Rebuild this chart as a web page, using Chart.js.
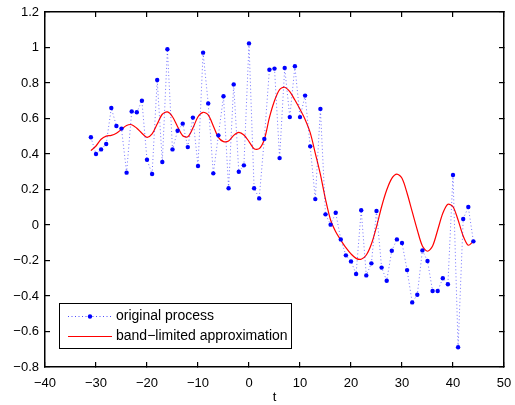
<!DOCTYPE html>
<html>
<head>
<meta charset="utf-8">
<script src="https://cdn.jsdelivr.net/npm/chart.js@4/dist/chart.umd.min.js"></script>
<style>
html,body{margin:0;padding:0;background:#fff;}
</style>
</head>
<body>
<canvas id="c" width="515" height="405"></canvas>
<script>
const tValues = [-31,-30,-29,-28,-27,-26,-25,-24,-23,-22,-21,-20,-19,-18,-17,-16,-15,-14,-13,-12,-11,-10,-9,-8,-7,-6,-5,-4,-3,-2,-1,0,1,2,3,4,5,6,7,8,9,10,11,12,13,14,15,16,17,18,19,20,21,22,23,24,25,26,27,28,29,30,31,32,33,34,35,36,37,38,39,40,41,42,43,44];
const originalProcess = [0.494,0.40,0.426,0.456,0.659,0.558,0.543,0.295,0.640,0.635,0.70,0.368,0.287,0.817,0.355,0.99,0.426,0.531,0.571,0.439,0.605,0.332,0.971,0.685,0.291,0.505,0.725,0.207,0.792,0.30,0.336,1.023,0.207,0.15,0.485,0.875,0.881,0.377,0.885,0.608,0.894,0.608,0.729,0.443,0.146,0.654,0.060,0.002,0.069,-0.081,-0.171,-0.205,-0.276,0.083,-0.284,-0.216,0.079,-0.24,-0.314,-0.145,-0.081,-0.101,-0.254,-0.436,-0.393,-0.143,-0.203,-0.372,-0.372,-0.30,-0.334,0.282,-0.689,0.034,0.101,-0.092];
const bandLimited = [0.419,0.445,0.483,0.501,0.505,0.517,0.539,0.561,0.565,0.545,0.517,0.494,0.513,0.569,0.624,0.637,0.610,0.554,0.503,0.497,0.546,0.610,0.635,0.620,0.558,0.494,0.470,0.473,0.505,0.522,0.507,0.470,0.430,0.430,0.482,0.605,0.700,0.763,0.776,0.751,0.704,0.652,0.595,0.520,0.404,0.285,0.145,0.028,-0.038,-0.085,-0.128,-0.163,-0.188,-0.193,-0.169,-0.107,-0.010,0.103,0.197,0.263,0.287,0.263,0.179,0.075,-0.028,-0.118,-0.148,-0.118,-0.028,0.066,0.117,0.103,0.028,-0.062,-0.114,-0.092];
const xTicks = [-40,-30,-20,-10,0,10,20,30,40,50];
const yTicks = [-0.8,-0.6,-0.4,-0.2,0,0.2,0.4,0.6,0.8,1,1.2];
const seriesLabels = ['original process','band\u2212limited approximation'];
const xTitle = 't';

const fmt = v => String(Math.round(v*10)/10).replace('-', '\u2212');
const FONT = '"Liberation Sans", Arial, sans-serif';

const zeroPad = s => { s.paddingLeft = 0; s.paddingRight = 0; s.paddingTop = 0; s.paddingBottom = 0; };

const legendPlugin = {
  id: 'boxLegend',
  afterDraw(chart) {
    const ctx = chart.ctx;
    ctx.save();
    ctx.setLineDash([]);
    ctx.lineWidth = 1;
    const lx = 59.5, ly = 303.5, lw = 232, lh = 45;
    ctx.fillStyle = '#fff';
    ctx.fillRect(lx, ly, lw, lh);
    ctx.strokeStyle = '#000';
    ctx.strokeRect(lx, ly, lw, lh);
    const r1 = 316, r2 = 336;
    ctx.strokeStyle = 'rgba(0,0,255,0.7)';
    ctx.setLineDash([1,2.5]);
    ctx.beginPath(); ctx.moveTo(68, r1+0.5); ctx.lineTo(112, r1+0.5); ctx.stroke();
    ctx.setLineDash([]);
    ctx.fillStyle = '#0000ff';
    ctx.beginPath(); ctx.arc(90, r1+0.5, 2.2, 0, Math.PI*2); ctx.fill();
    ctx.strokeStyle = '#ff0000';
    ctx.lineWidth = 1.2;
    ctx.beginPath(); ctx.moveTo(68, r2+0.5); ctx.lineTo(112, r2+0.5); ctx.stroke();
    ctx.fillStyle = '#000';
    ctx.font = '14px ' + FONT;
    ctx.textBaseline = 'middle';
    ctx.textAlign = 'left';
    ctx.fillText(seriesLabels[0], 116, r1);
    ctx.fillText(seriesLabels[1], 116, r2);
    ctx.restore();
  }
};

const tickGrid = { display: true, drawOnChartArea: false, drawTicks: true, tickLength: -5, color: '#000', lineWidth: 1.2 };
const axisBorder = { display: true, color: '#000', width: 1.5 };

new Chart(document.getElementById('c'), {
  type: 'line',
  data: {
    datasets: [
      {
        label: seriesLabels[0],
        data: tValues.map((t,i) => ({x:t, y:originalProcess[i]})),
        borderColor: 'rgba(0,0,255,0.55)',
        borderWidth: 1,
        borderDash: [1,2.5],
        pointRadius: 2.2,
        pointBackgroundColor: '#0000ff',
        pointBorderColor: '#0000ff',
        pointBorderWidth: 0,
        tension: 0,
        fill: false
      },
      {
        label: seriesLabels[1],
        data: tValues.map((t,i) => ({x:t, y:bandLimited[i]})),
        borderColor: '#ff0000',
        borderWidth: 1.2,
        pointRadius: 0,
        tension: 0.3,
        fill: false
      }
    ]
  },
  options: {
    responsive: false,
    animation: false,
    layout: { padding: { top: 12, right: 11, left: 0, bottom: 0 } },
    plugins: { legend: { display: false }, tooltip: { enabled: false } },
    scales: {
      x: {
        type: 'linear', position: 'bottom', min: -40, max: 50,
        afterBuildTicks: s => { s.ticks = xTicks.map(v => ({value: v})); },
        afterFit: s => { s.height = 38; zeroPad(s); },
        grid: tickGrid,
        border: axisBorder,
        ticks: { color: '#000', padding: 14, maxRotation: 0, font: { family: FONT, size: 13 }, callback: v => fmt(v) },
        title: { display: true, text: xTitle, color: '#000', padding: { top: 0, bottom: 0 }, font: { family: FONT, size: 13 } }
      },
      xTop: {
        type: 'linear', position: 'top', min: -40, max: 50,
        afterBuildTicks: s => { s.ticks = xTicks.map(v => ({value: v})); },
        afterFit: s => { s.height = 0; zeroPad(s); },
        grid: tickGrid,
        border: axisBorder,
        ticks: { display: false }
      },
      y: {
        type: 'linear', position: 'left', min: -0.8, max: 1.2,
        afterBuildTicks: s => { s.ticks = yTicks.map(v => ({value: v})); },
        afterFit: s => { s.width = 45; zeroPad(s); },
        grid: tickGrid,
        border: axisBorder,
        ticks: { color: '#000', padding: 11, font: { family: FONT, size: 13 }, callback: v => fmt(v) }
      },
      yRight: {
        type: 'linear', position: 'right', min: -0.8, max: 1.2,
        afterBuildTicks: s => { s.ticks = yTicks.map(v => ({value: v})); },
        afterFit: s => { s.width = 0; zeroPad(s); },
        grid: tickGrid,
        border: axisBorder,
        ticks: { display: false }
      }
    }
  },
  plugins: [legendPlugin]
});
</script>
</body>
</html>
